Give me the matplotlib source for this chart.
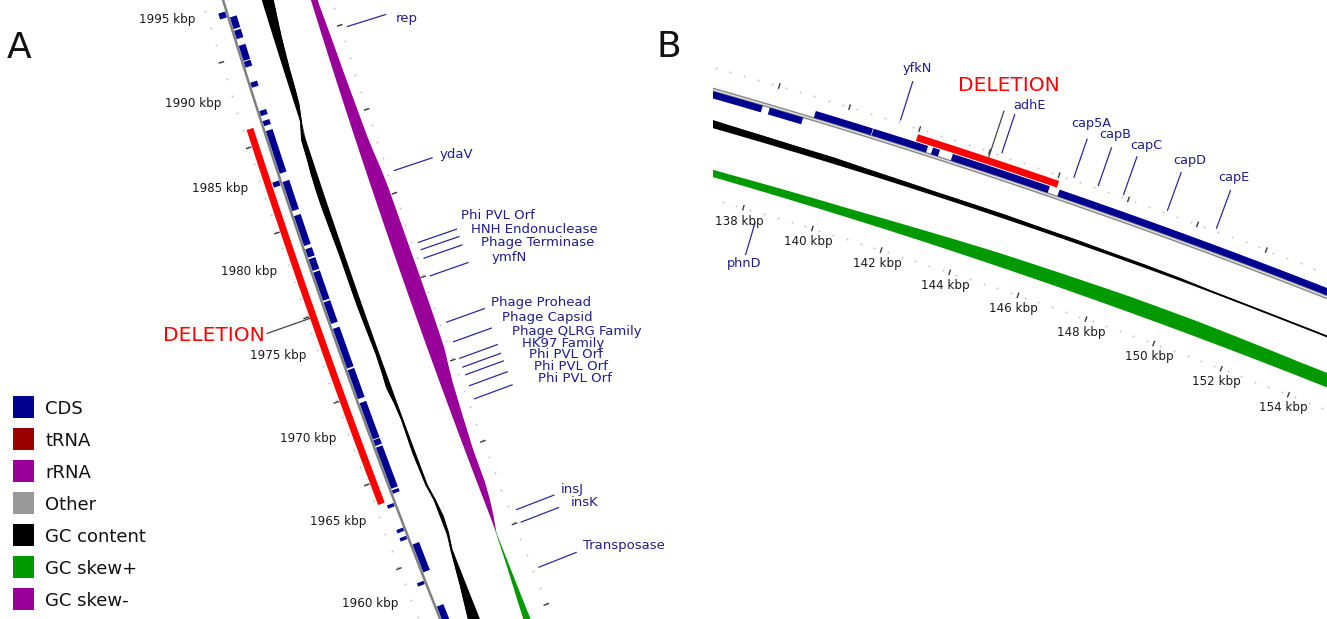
import numpy as np
import matplotlib.pyplot as plt
from matplotlib.patches import Polygon, Rectangle

W, H = 1327, 619

# colours
CDS_C = '#000090'
DEL_C = '#ff0000'
SKEW_POS = '#009900'
SKEW_NEG = '#990099'
LABEL_C = '#1e1e8c'
LINE_C = '#2b2b99'

# ---------------- panel A data (kbp) ----------------
cds_a_start = [1993.95, 1993.2, 1992.6, 1991.3, 1990.9, 1989.7, 1988.0, 1987.4, 1984.55, 1983.9,
               1982.3, 1980.2, 1979.5, 1978.7, 1976.9, 1975.5, 1972.8, 1970.95, 1968.5, 1968.1,
               1965.5, 1965.2, 1964.5, 1963.0, 1962.5, 1960.4, 1959.75, 1957.4]
cds_a_end = [1994.3, 1993.9, 1993.1, 1992.2, 1991.25, 1990.0, 1988.3, 1987.7, 1987.1, 1984.2,
             1984.05, 1982.0, 1980.0, 1979.4, 1978.6, 1976.8, 1975.2, 1972.7, 1970.7, 1968.45,
             1968.0, 1965.4, 1964.7, 1963.2, 1962.7, 1962.1, 1959.95, 1958.3]
cds_a_strand = [1, -1, -1, -1, -1, -1, -1, -1, -1, 1, -1, -1, -1, -1, -1, -1, -1, -1, -1, -1,
                -1, -1, 1, 1, 1, -1, 1, -1]
deletion_a = (1964.9, 1987.5)

win_a = np.arange(1997, 1954, -1)
gc_dev_a = [12, 12, 11.5, 11, 9.5, 8, 7, 6, 5.5, 4.5, 1.5, -4.5, -5, -6, -6.5, -6.5, -6, -5.5,
            -5, -5, -5, -5, -4.5, -4, -3.5, -4, -5, -3, -2, -2.5, -3, -2.5, -2, 2, 3.5, 2.5,
            -2, -4, -6, -8.5, -11, -13, -14]
gc_skew_a = [-0.055, -0.058, -0.060, -0.063, -0.066, -0.075, -0.083, -0.090, -0.096, -0.103,
             -0.110, -0.116, -0.123, -0.135, -0.150, -0.160, -0.163, -0.165, -0.167, -0.168,
             -0.170, -0.170, -0.170, -0.168, -0.165, -0.160, -0.140, -0.122, -0.111, -0.100,
             -0.090, -0.080, -0.077, -0.075, -0.060, -0.035, 0.005, 0.015, 0.025, 0.038,
             0.052, 0.065, 0.075]

genes_a = ['rep', 'ydaV', 'Phi PVL Orf', 'HNH Endonuclease', 'Phage Terminase', 'ymfN',
           'Phage Prohead', 'Phage Capsid', 'Phage QLRG Family', 'HK97 Family',
           'Phi PVL Orf', 'Phi PVL Orf', 'Phi PVL Orf', 'insJ', 'insK', 'Transposase']
gene_kbp_a = [1991.4, 1982.65, 1978.27, 1977.82, 1977.3, 1976.22, 1973.38, 1972.18, 1971.16,
              1970.62, 1970.15, 1969.48, 1968.67, 1961.82, 1961.05, 1958.25]
label_kbp_a = [1991.06, 1982.76, 1978.99, 1978.05, 1977.13, 1976.1, 1973.63, 1972.6, 1971.66,
               1970.8, 1970.07, 1969.3, 1968.56, 1962.06, 1961.14, 1958.56]
ruler_labels_a = [1995, 1990, 1985, 1980, 1975, 1970, 1965, 1960]
ruler_ticks_a = [1996.7, 1991.6, 1986.5, 1981.4, 1976.3, 1971.2, 1966.2, 1961.1, 1956.1]

# ---------------- panel B data (kbp) ----------------
cds_b_start = [135.0, 137.92, 139.15, 140.8, 142.5, 143.07, 146.14]
cds_b_end = [137.72, 138.87, 140.78, 142.36, 142.7, 145.86, 157.0]
cds_b_strand = [-1, -1, 1, 1, 1, 1, 1]
deletion_b = (142.0, 146.05)

win_b = np.arange(135, 157)
gc_dev_b = [-8.5, -8, -7, -6.5, -6, -6, -5, -4.5, -4, -4, -4, -3.5, -3.5, -3, -3, -2.5,
            -1.5, -1.2, -1, -1, -1, -1]
gc_skew_b = [0.060, 0.065, 0.070, 0.075, 0.080, 0.085, 0.090, 0.100, 0.110, 0.120, 0.130,
             0.135, 0.140, 0.145, 0.150, 0.150, 0.150, 0.145, 0.140, 0.135, 0.135, 0.135]

genes_b = ['phnD', 'yfkN', 'adhE', 'cap5A', 'capB', 'capC', 'capD', 'capE']
gene_kbp_b = [138.43, 141.43, 144.33, 146.4, 147.1, 147.83, 149.1, 150.52]
label_kbp_b = [138.46, 141.42, 144.63, 146.36, 147.06, 147.96, 149.2, 150.46]
gene_side_b = ['in', 'out', 'out', 'out', 'out', 'out', 'out', 'out']
ruler_labels_b = [138, 140, 142, 144, 146, 148, 150, 152, 154]
ruler_ticks_b = [136, 138, 140, 142, 144, 146, 148, 150, 152, 154, 156]

legend_names = ['CDS', 'tRNA', 'rRNA', 'Other', 'GC content', 'GC skew+', 'GC skew-']
legend_colors = [CDS_C, '#990000', '#990099', '#999999', '#000000', SKEW_POS, SKEW_NEG]

GC_SCALE = 1.0      # px per unit of GC deviation
SKEW_SCALE = 100.0  # px per unit of GC skew


# ---------------- geometry: a big circle seen up close ----------------
def geometry(mx, my, p0, phi_deg, radius, px_per_kbp):
    phi = np.radians(phi_deg)
    return dict(cx=mx - radius * np.cos(phi), cy=my - radius * np.sin(phi),
                phi=phi, p0=p0, r=radius, k=px_per_kbp)


def xy(g, p, off):
    a = g['phi'] + (np.asarray(p, float) - g['p0']) * g['k'] / g['r']
    rr = g['r'] - np.asarray(off, float)
    return g['cx'] + rr * np.cos(a), g['cy'] + rr * np.sin(a)


def text_c(ax, x, y, s, size, **kw):
    # centre on the cap height rather than on the full text box
    ax.text(x, y + 0.365 * size * 100 / 72, s, fontsize=size, va='baseline', **kw)


def arc_band(ax, g, p1, p2, o1, o2, color, z=3):
    p = np.linspace(p1, p2, 40)
    x1, y1 = xy(g, p, o1)
    x2, y2 = xy(g, p[::-1], o2)
    ax.add_patch(Polygon(np.c_[np.r_[x1, x2], np.r_[y1, y2]], closed=True,
                         lw=0, fc=color, zorder=z))


def profile(ax, g, kbp, inner, outer, color, z=3):
    x1, y1 = xy(g, kbp, inner)
    x2, y2 = xy(g, kbp[::-1], np.asarray(outer)[::-1])
    ax.add_patch(Polygon(np.c_[np.r_[x1, x2], np.r_[y1, y2]], closed=True,
                         lw=0, fc=color, zorder=z))


def ruler(ax, g, ticks, step, offsets):
    ticks = np.asarray(ticks, float)
    minor = np.arange(ticks.min() - 1, ticks.max() + 1, step)
    for o in offsets:
        x, y = xy(g, minor, o)
        ax.scatter(x, y, s=2, c='#c4c4c4', lw=0, zorder=1)
        for p in ticks:
            tx, ty = xy(g, [p, p], [o - 2.2, o + 2.2])
            ax.plot(tx, ty, color='#3a3a3a', lw=1.0, zorder=2)


def tracks(ax, g, cds, deletion, win, gc_dev, skew, backbone_double):
    # backbone
    p = np.linspace(win.min() - 3, win.max() + 3, 200)
    x, y = xy(g, p, 0)
    if backbone_double:
        ax.plot(x, y, color='#8a8a8a', lw=3.0, zorder=2)
        ax.plot(x, y, color='#e6e6e6', lw=0.9, zorder=2)
    else:
        ax.plot(x, y, color='#808080', lw=1.8, zorder=2)
    # genes
    for s, e, st in zip(*cds):
        c = -5 if st > 0 else 5
        arc_band(ax, g, s, e, c - 3.5, c + 3.5, CDS_C)
    arc_band(ax, g, deletion[0], deletion[1], -16.5, -9.5, DEL_C, z=4)
    # GC content
    base = 37
    dev = np.asarray(gc_dev, float) * GC_SCALE
    profile(ax, g, win, np.full(len(win), base), base + np.clip(dev, 0, None), 'black')
    profile(ax, g, win, base + np.clip(dev, None, 0), np.full(len(win), base), 'black')
    ex, ey = xy(g, win, base + dev - np.sign(dev) * 0.6)
    ax.plot(ex, ey, color='black', lw=1.3, zorder=3)
    # GC skew (positive outward, negative inward)
    base = 84
    sk = np.asarray(skew, float) * SKEW_SCALE
    profile(ax, g, win, np.full(len(win), base), base - np.clip(sk, 0, None), SKEW_POS)
    profile(ax, g, win, np.full(len(win), base), base - np.clip(sk, None, 0), SKEW_NEG)


def label_rings(at, base, step, cap, gap):
    rings, rank = [], 0
    for i, p in enumerate(at):
        rank = rank + 1 if i and abs(at[i - 1] - p) < gap else 0
        rings.append(min(base + step * rank, cap))
    return rings


gA = geometry(326.8, 316.2, 1976.0, 160.64, 8000, 17.55)
gB = geometry(1052.0, 196.0, 146.0, -71.07, 6700, 36.6)

fig = plt.figure(figsize=(W / 100, H / 100), dpi=100)
ax_a = fig.add_axes([0, 0, 1, 1])
ax_b = fig.add_axes([713 / W, 0, (W - 713) / W, 1])
for ax, x0 in ((ax_a, 0), (ax_b, 713)):
    ax.set_xlim(x0, W)
    ax.set_ylim(H, 0)
    ax.axis('off')

# ---------------- panel A ----------------
ruler(ax_a, gA, ruler_ticks_a, np.mean(-np.diff(ruler_ticks_a)) / 5, [-20, 104])
tracks(ax_a, gA, (cds_a_start, cds_a_end, cds_a_strand), deletion_a, win_a,
       gc_dev_a, gc_skew_a, False)
for v in ruler_labels_a:
    x, y = xy(gA, v - 0.12, -59)
    text_c(ax_a, x, y, f'{v} kbp', 8.6, color='#1a1a1a', ha='center')

rings = label_rings(label_kbp_a, 160, 5, 178, 1.2)
for name, p, pl, o in zip(genes_a, gene_kbp_a, label_kbp_a, rings):
    lx, ly = xy(gA, [p, p], [111, 151])
    ax_a.plot(lx, ly, color=LINE_C, lw=0.9, zorder=5)
    tx, ty = xy(gA, pl, o)
    text_c(ax_a, tx, ty, name, 9.5, color=LABEL_C, ha='left')

mid = sum(deletion_a) / 2
lx, ly = xy(gA, [mid, mid], [-17, -62])
ax_a.plot(lx, ly, color='#444444', lw=0.9, zorder=5)
tx, ty = xy(gA, mid, -64)
text_c(ax_a, tx, ty, 'DELETION', 14.5, color=DEL_C, ha='right')

# ---------------- panel B ----------------
ruler(ax_b, gB, ruler_ticks_b, 0.4, [-22, 105])
tracks(ax_b, gB, (cds_b_start, cds_b_end, cds_b_strand), deletion_b, win_b,
       gc_dev_b, gc_skew_b, True)
for v in ruler_labels_b:
    x, y = xy(gB, v, 118)
    text_c(ax_b, x, y, f'{v} kbp', 8.6, color='#1a1a1a', ha='center')

for i, (name, p, pl, side) in enumerate(zip(genes_b, gene_kbp_b, label_kbp_b, gene_side_b)):
    if side == 'out':
        seg, ring = [-25, -65], -80
        # lift a label a little when the next one sits close behind it
        if i + 1 < len(label_kbp_b) and label_kbp_b[i + 1] - pl < 0.8:
            ring = -83
    else:
        seg, ring = [116, 149], 157
    lx, ly = xy(gB, [p, p], seg)
    ax_b.plot(lx, ly, color=LINE_C, lw=0.9, zorder=5)
    tx, ty = xy(gB, pl, ring)
    text_c(ax_b, tx, ty, name, 9.3, color=LABEL_C, ha='center')

mid = sum(deletion_b) / 2
lx, ly = xy(gB, [mid, mid], [-17, -65])
ax_b.plot(lx, ly, color='#444444', lw=0.9, zorder=5)
tx, ty = xy(gB, mid - 0.1, -93)
text_c(ax_b, tx, ty, 'DELETION', 14.5, color=DEL_C, ha='center')

# ---------------- legend and panel letters ----------------
for i, (name, col) in enumerate(zip(legend_names, legend_colors)):
    ax_a.add_patch(Rectangle((12.7, 396 + 32 * i), 21.6, 21.6, fc=col, lw=0))
    text_c(ax_a, 45, 407 + 32 * i, name, 13, color='#111111', ha='left')

ax_a.text(7, 58, 'A', fontsize=26, color='#111111', va='baseline', ha='left')
ax_a.text(657, 57, 'B', fontsize=26, color='#111111', va='baseline', ha='left')

fig.savefig('out.png', dpi=100, facecolor='white')
